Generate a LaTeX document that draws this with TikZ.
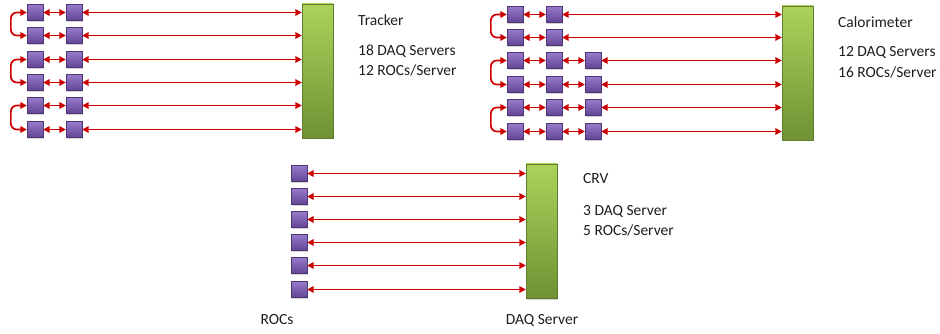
\documentclass[tikz,border=0pt]{standalone}
\usepackage{fontspec}
\setmainfont{Carlito}
\usetikzlibrary{arrows.meta,shadows}

\definecolor{linkred}{RGB}{204,0,0}
\definecolor{rocTop}{RGB}{152,122,202}
\definecolor{rocBot}{RGB}{98,68,148}
\definecolor{srvTop}{RGB}{172,210,90}
\definecolor{srvBot}{RGB}{112,146,52}
\definecolor{txt}{RGB}{30,30,30}

\tikzset{
  roc/.style={rectangle, minimum size=16pt, inner sep=0pt,
    top color=rocTop, bottom color=rocBot, draw=rocBot!80!black, line width=0.3pt,
    drop shadow={opacity=0.35, shadow xshift=1pt, shadow yshift=-1.2pt}},
  server/.style={rectangle, inner sep=0pt,
    top color=srvTop, bottom color=srvBot, draw=srvBot!85!black, line width=0.3pt,
    drop shadow={opacity=0.35, shadow xshift=1.2pt, shadow yshift=-1.5pt}},
  link/.style={draw=linkred, line width=1.7pt,
    {Triangle[length=6.5pt,width=6.5pt]}-{Triangle[length=6.5pt,width=6.5pt]}},
  loop/.style={link, rounded corners=6pt},
  label/.style={font=\fontsize{15.5}{18}\selectfont, text=txt, inner sep=0pt, anchor=west},
  caption/.style={font=\fontsize{15.5}{18}\selectfont, text=txt, inner sep=0pt}
}

\begin{document}
\begin{tikzpicture}[x=1pt, y=-1pt]
\useasboundingbox (0,0) rectangle (940,334);

% ---------------- Tracker ----------------
\node[server, minimum width=31pt, minimum height=134pt] (tsrv) at (317.5,71) {};
\foreach \r/\y in {1/12.5, 2/35.5, 3/59.5, 4/82.5, 5/105.5, 6/129.5} {
  \node[roc] (ta\r) at (35,\y) {};
  \node[roc] (tb\r) at (74,\y) {};
  \draw[link] (ta\r.east) -- (tb\r.west);
  \draw[link] (tb\r.east) -- (tsrv.west |- tb\r);
}
\foreach \a/\b in {1/2, 3/4, 5/6}
  \draw[loop] (ta\a.west) -- ++(-16pt,0) |- (ta\b.west);

\node[label] (tname) at (358,20) {Tracker};
\node[label] (tdaq) at (358,51) {18 DAQ Servers};
\node[label] (troc) at (358,70) {12 ROCs/Server};

% ---------------- Calorimeter ----------------
\node[server, minimum width=31pt, minimum height=134pt] (csrv) at (797.5,73) {};
\foreach \r/\y in {1/14.5, 2/37.5} {
  \node[roc] (ca\r) at (515,\y) {};
  \node[roc] (cb\r) at (554,\y) {};
  \draw[link] (ca\r.east) -- (cb\r.west);
  \draw[link] (cb\r.east) -- (csrv.west |- cb\r);
}
\foreach \r/\y in {3/60.5, 4/84.5, 5/107.5, 6/131.5} {
  \node[roc] (ca\r) at (515,\y) {};
  \node[roc] (cb\r) at (554,\y) {};
  \node[roc] (cc\r) at (593,\y) {};
  \draw[link] (ca\r.east) -- (cb\r.west);
  \draw[link] (cb\r.east) -- (cc\r.west);
  \draw[link] (cc\r.east) -- (csrv.west |- cc\r);
}
\foreach \a/\b in {1/2, 3/4, 5/6}
  \draw[loop] (ca\a.west) -- ++(-16pt,0) |- (ca\b.west);

\node[label] (cname) at (838,22) {Calorimeter};
\node[label] (cdaq) at (838,52) {12 DAQ Servers};
\node[label] (croc) at (838,72) {16 ROCs/Server};

% ---------------- CRV ----------------
\node[server, minimum width=31pt, minimum height=134pt] (vsrv) at (541.5,231) {};
\foreach \r/\y in {1/173.5, 2/196.5, 3/219.5, 4/242.5, 5/265.5, 6/289.5} {
  \node[roc] (va\r) at (299,\y) {};
  \draw[link] (va\r.east) -- (vsrv.west |- va\r);
}

\node[label] (vname) at (583,179) {CRV};
\node[label] (vdaq) at (583,211) {3 DAQ Server};
\node[label] (vroc) at (583,230) {5 ROCs/Server};

\node[caption] (rocs) at (277,320) {ROCs};
\node[caption] (daq) at (542,320) {DAQ Server};
\end{tikzpicture}
\end{document}
